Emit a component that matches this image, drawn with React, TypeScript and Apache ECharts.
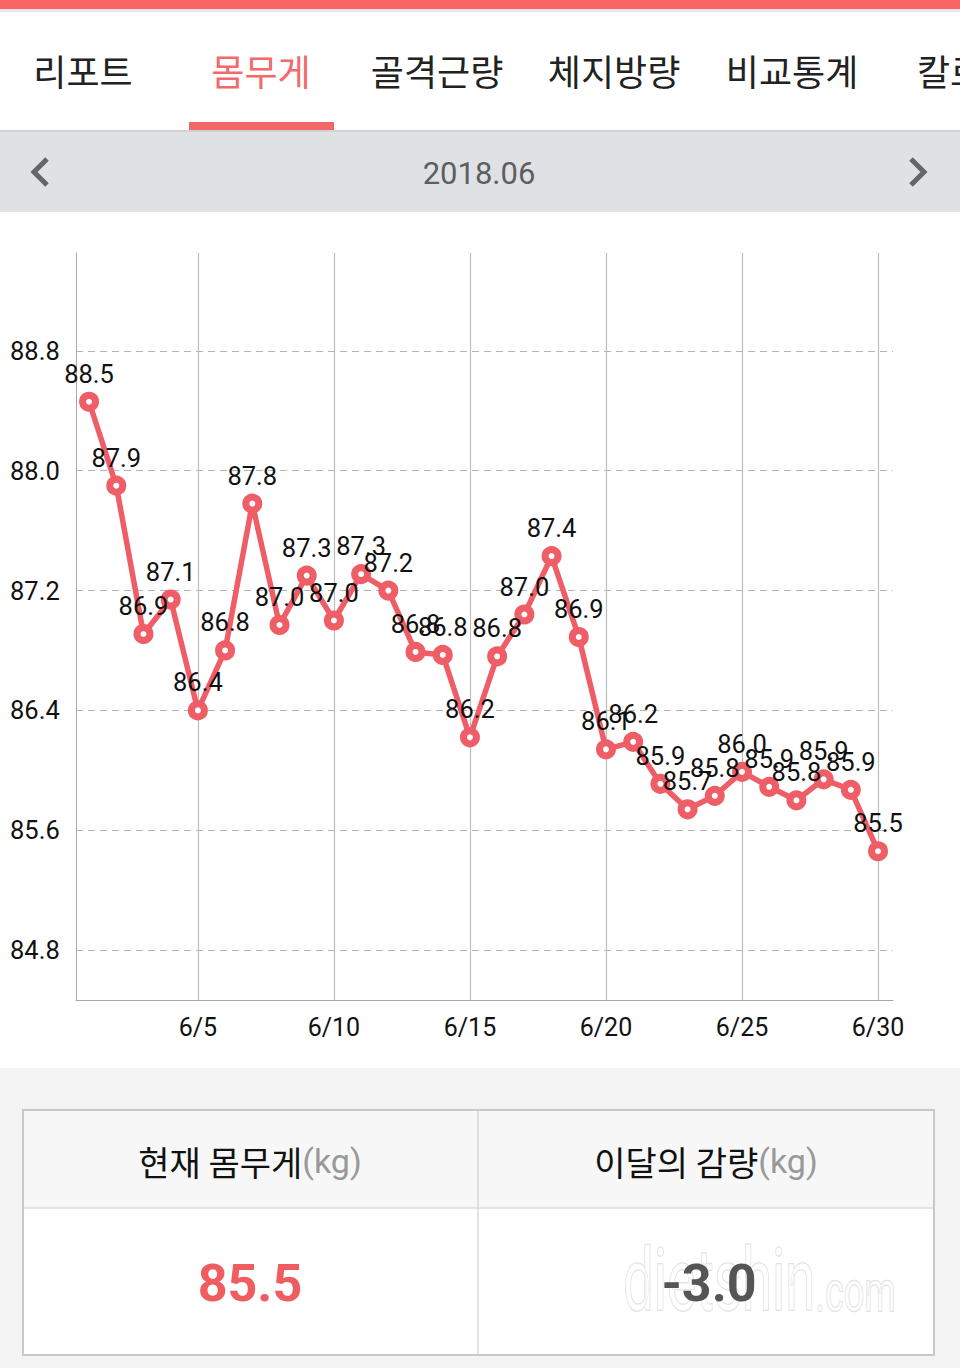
import React, { useEffect, useRef } from "react";
import * as echarts from "echarts";

const days = [1, 2, 3, 4, 5, 6, 7, 8, 9, 10, 11, 12, 13, 14, 15, 16, 17, 18, 19, 20, 21, 22, 23, 24, 25, 26, 27, 28, 29, 30];
const weights = [88.46, 87.9, 86.91, 87.14, 86.4, 86.8, 87.78, 86.97, 87.3, 87.0, 87.31, 87.2, 86.79, 86.77, 86.22, 86.76, 87.04, 87.43, 86.89, 86.14, 86.19, 85.91, 85.74, 85.83, 85.99, 85.89, 85.8, 85.94, 85.87, 85.46];
const yTicks = [84.8, 85.6, 86.4, 87.2, 88.0, 88.8];
const xTicks = [5, 10, 15, 20, 25, 30];
const tabs = ["리포트", "몸무게", "골격근량", "체지방량", "비교통계", "칼로리"];
const tabX = [83, 261, 437, 614, 792, 917];
const monthLabel = "2018.06";
const currentWeight = "85.5";
const monthlyLoss = "-3.0";

const RED = "#ef5d67";
const KR = "'Noto Sans CJK KR', 'Noto Sans', sans-serif";
const NUM = "Roboto, 'Noto Sans', sans-serif";

export default function App() {
  const ref = useRef<HTMLDivElement>(null);
  useEffect(() => {
    document.body.style.margin = "0";
    const chart = echarts.init(ref.current!, null, { renderer: "svg" });
    const tabTexts = tabs.map((t, i) => ({
      type: "text",
      x: tabX[i],
      y: 70,
      style: {
        text: t,
        fill: i === 1 ? "#f26a6a" : "#222",
        font: `36px ${KR}`,
        align: i === 5 ? "left" : "center",
        verticalAlign: "middle",
      },
    }));
    chart.setOption({
      animation: false,
      backgroundColor: "#ffffff",
      grid: { left: 76, right: 67, top: 253, bottom: 368, containLabel: false },
      xAxis: {
        type: "value",
        min: 0.52,
        max: 30.55,
        axisLine: { show: true, lineStyle: { color: "#a8a8a8", width: 1 } },
        axisTick: { show: false, customValues: xTicks },
        axisLabel: {
          customValues: xTicks,
          formatter: (v: number) => "6/" + v,
          color: "#111",
          fontSize: 25,
          fontFamily: NUM,
          margin: 15,
        },
        splitLine: { show: true, lineStyle: { color: "#bdbdbd", width: 1.2, type: "solid" } },
      },
      yAxis: {
        type: "value",
        min: 84.467,
        max: 89.453,
        axisLine: { show: true, lineStyle: { color: "#a8a8a8", width: 1 } },
        axisTick: { show: false, customValues: yTicks },
        axisLabel: {
          customValues: yTicks,
          formatter: (v: number) => v.toFixed(1),
          color: "#111",
          fontSize: 25.5,
          fontFamily: NUM,
          align: "left",
          margin: 66,
        },
        splitLine: { show: true, lineStyle: { color: "#b5b5b5", width: 1, type: [7, 5] } },
      },
      series: [
        {
          type: "line",
          data: days.map((d, i) => [d, weights[i]]),
          lineStyle: { color: RED, width: 5.5 },
          symbol: "circle",
          symbolSize: 13,
          itemStyle: { color: "#ffffff", borderColor: RED, borderWidth: 7 },
          label: {
            show: true,
            position: "top",
            distance: 5,
            formatter: (p: any) => p.value[1].toFixed(1),
            color: "#111",
            fontSize: 25.5,
            fontFamily: NUM,
          },
          z: 5,
        },
      ],
      graphic: [
        { type: "rect", shape: { x: 0, y: 0, width: 960, height: 9 }, style: { fill: "#f86465" } },
        { type: "rect", shape: { x: 0, y: 9, width: 960, height: 3 }, style: { fill: "#e6e6e6" } },
        ...tabTexts,
        { type: "rect", shape: { x: 189, y: 122, width: 145, height: 8 }, style: { fill: "#f26868" } },
        { type: "rect", shape: { x: 0, y: 130, width: 960, height: 2 }, style: { fill: "#cfd1d3" } },
        { type: "rect", shape: { x: 0, y: 132, width: 960, height: 80 }, style: { fill: "#dfe2e5" } },
        {
          type: "text",
          x: 479,
          y: 173,
          style: { text: monthLabel, fill: "#5e5e5e", font: `31px ${NUM}`, align: "center", verticalAlign: "middle" },
        },
        {
          type: "polyline",
          shape: { points: [[47, 159], [34, 172], [47, 185]] },
          style: { stroke: "#666", lineWidth: 5, fill: "none" },
        },
        {
          type: "polyline",
          shape: { points: [[911, 159], [924, 172], [911, 185]] },
          style: { stroke: "#666", lineWidth: 5, fill: "none" },
        },
        { type: "rect", shape: { x: 0, y: 1068, width: 960, height: 300 }, style: { fill: "#f3f3f3" } },
        { type: "rect", shape: { x: 23, y: 1110, width: 911, height: 245 }, style: { fill: "#ffffff", stroke: "#c9c9c9", lineWidth: 2 } },
        { type: "rect", shape: { x: 24, y: 1111, width: 909, height: 97 }, style: { fill: "#f7f7f7" } },
        { type: "line", shape: { x1: 24, y1: 1208, x2: 933, y2: 1208 }, style: { stroke: "#dcdcdc", lineWidth: 1.5 } },
        { type: "line", shape: { x1: 478, y1: 1111, x2: 478, y2: 1354 }, style: { stroke: "#d8d8d8", lineWidth: 1.5 } },
        {
          type: "text",
          x: 250,
          y: 1161,
          style: {
            text: "{a|현재 몸무게}{b|(kg)}",
            align: "center",
            verticalAlign: "middle",
            rich: {
              a: { fill: "#111", font: `34px ${KR}` },
              b: { fill: "#999", font: `34px ${NUM}` },
            },
          },
        },
        {
          type: "text",
          x: 706,
          y: 1161,
          style: {
            text: "{a|이달의 감량}{b|(kg)}",
            align: "center",
            verticalAlign: "middle",
            rich: {
              a: { fill: "#111", font: `34px ${KR}` },
              b: { fill: "#999", font: `34px ${NUM}` },
            },
          },
        },
        {
          type: "text",
          x: 623,
          y: 1280,
          scaleX: 0.62,
          scaleY: 1,
          style: {
            text: "{a|dietshin}{b|.com}",
            fill: "rgba(255,255,255,0.55)",
            stroke: "#dddddd",
            lineWidth: 1.5,
            align: "left",
            verticalAlign: "middle",
            rich: {
              a: { font: `88px ${NUM}`, fill: "rgba(255,255,255,0.55)", stroke: "#dddddd", lineWidth: 1.5 },
              b: { font: `58px ${NUM}`, fill: "rgba(255,255,255,0.55)", stroke: "#dddddd", lineWidth: 1.5, padding: [22, 0, 0, 0] },
            },
          },
          z: 1,
        },
        {
          type: "text",
          x: 250,
          y: 1283,
          style: { text: currentWeight, fill: "#ef5d60", font: `bold 52px ${NUM}`, align: "center", verticalAlign: "middle" },
          z: 2,
        },
        {
          type: "text",
          x: 709,
          y: 1283,
          style: { text: monthlyLoss, fill: "#555", font: `bold 52px ${NUM}`, align: "center", verticalAlign: "middle" },
          z: 2,
        },
      ],
    });
    return () => chart.dispose();
  }, []);
  return <div ref={ref} style={{ width: 960, height: 1368 }} />;
}
